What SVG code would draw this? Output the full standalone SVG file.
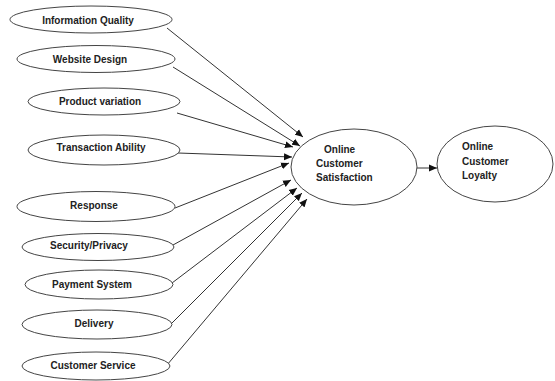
<svg xmlns="http://www.w3.org/2000/svg" width="555" height="381" viewBox="0 0 555 381">
<style>
.n ellipse{fill:#fff;stroke:#444;stroke-width:1}
.n text{font-family:"Liberation Sans",Arial,sans-serif;font-weight:bold;font-size:10px;fill:#222}
.c line{stroke:#333;stroke-width:1;marker-end:url(#ah)}
.m{text-anchor:middle}
</style>
<defs>
<marker id="ah" markerUnits="userSpaceOnUse" markerWidth="9" markerHeight="8" refX="8" refY="4" orient="auto">
<path d="M0,0.5 L8,4 L0,7.5 Z" fill="#111"/>
</marker>
</defs>
<g class="c">
<line x1="167" y1="28" x2="303" y2="137"/>
<line x1="173" y1="67" x2="300" y2="146"/>
<line x1="177" y1="113" x2="293" y2="147"/>
<line x1="178" y1="153" x2="292" y2="157"/>
<line x1="175" y1="208" x2="289" y2="163"/>
<line x1="173" y1="245" x2="291" y2="180"/>
<line x1="172" y1="283" x2="297" y2="188"/>
<line x1="172" y1="323" x2="302" y2="193"/>
<line x1="167" y1="365" x2="307" y2="199"/>
<line x1="414" y1="168" x2="437" y2="168"/>
</g>
<g id="info" class="n"><ellipse cx="91" cy="19.5" rx="81" ry="13.5"/><text class="m" x="88" y="23.5">Information Quality</text></g>
<g id="web" class="n"><ellipse cx="96" cy="59" rx="79" ry="13.5"/><text class="m" x="90" y="62.5">Website Design</text></g>
<g id="prod" class="n"><ellipse cx="104" cy="101.5" rx="76" ry="13.5"/><text class="m" x="100" y="105">Product variation</text></g>
<g id="trans" class="n"><ellipse cx="104" cy="150" rx="76" ry="15"/><text class="m" x="101" y="150.5">Transaction Ability</text></g>
<g id="resp" class="n"><ellipse cx="96" cy="206.5" rx="79" ry="15"/><text class="m" x="94" y="209">Response</text></g>
<g id="sec" class="n"><ellipse cx="98" cy="247" rx="76" ry="13.5"/><text class="m" x="89" y="249">Security/Privacy</text></g>
<g id="pay" class="n"><ellipse cx="99" cy="284.5" rx="74" ry="14.5"/><text class="m" x="92" y="287.5">Payment System</text></g>
<g id="del" class="n"><ellipse cx="97" cy="324.5" rx="75" ry="14.5"/><text class="m" x="94" y="327">Delivery</text></g>
<g id="cs" class="n"><ellipse cx="96" cy="366" rx="74" ry="14"/><text class="m" x="93" y="369">Customer Service</text></g>
<g id="sat" class="n"><ellipse cx="354" cy="167" rx="63" ry="38"/><text x="324" y="153">Online</text><text x="316" y="167">Customer</text><text x="316" y="181">Satisfaction</text></g>
<g id="loy" class="n"><ellipse cx="495" cy="164" rx="58" ry="38"/><text x="462" y="150">Online</text><text x="462" y="165">Customer</text><text x="462" y="179">Loyalty</text></g>
</svg>
